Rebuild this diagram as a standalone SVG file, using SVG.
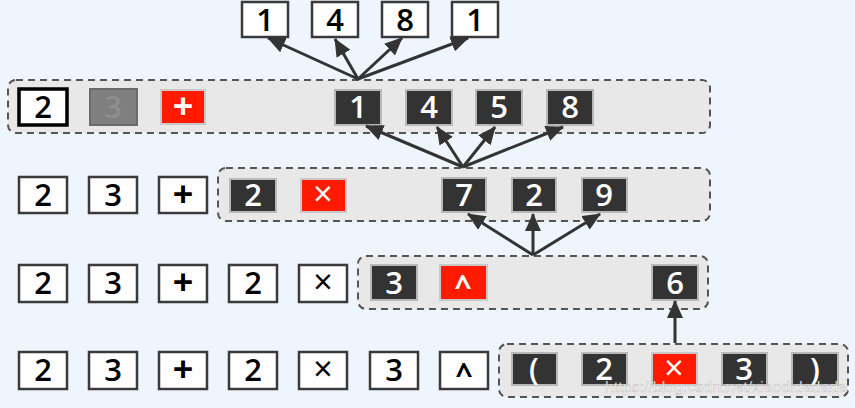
<svg xmlns="http://www.w3.org/2000/svg" width="855" height="408" viewBox="0 0 855 408">
<defs>
<style>
.bg{fill:#eef5fd}
.cont{fill:#e8e8e8;stroke:#555;stroke-width:2;stroke-dasharray:7 5}
.wb{fill:#fff;stroke:#3a3a3a;stroke-width:2.5}
.wbk{fill:#fff;stroke:#000;stroke-width:3.5}
.db{fill:#333;stroke:#b8b8b8;stroke-width:2}
.rb{fill:#ff1a00;stroke:#c8c8c8;stroke-width:2}
.gb{fill:#7f7f7f;stroke:#6a6a6a;stroke-width:2}
text{font-family:"Open Sans","DejaVu Sans",sans-serif;font-weight:600;font-size:31px;text-anchor:middle}
.tk{fill:#000}
.tw{fill:#fff}
.tg{fill:#8e8e8e}
.op{font-size:36px;font-weight:700}
.ox{font-weight:400;font-size:34px}
.ca{font-size:30px;font-weight:700}
.conn line{stroke:#333;stroke-width:3}
.wm{font-family:"Liberation Sans",Arial,sans-serif;font-weight:400;font-size:15px;text-anchor:start;fill:#fff;fill-opacity:0.85;stroke:#888;stroke-width:0.4;stroke-opacity:0.6}
</style>
<marker id="ah" markerUnits="userSpaceOnUse" markerWidth="18" markerHeight="16" viewBox="0 0 18 16" refX="17" refY="8" orient="auto">
<path d="M0,0 L18,8 L0,16 Z" fill="#333"/>
</marker>
</defs>
<rect class="bg" x="0" y="0" width="855" height="408"/>

<!-- containers -->
<g id="container1"><rect class="cont" x="8" y="80" width="702" height="53" rx="8"/></g>
<g id="container2"><rect class="cont" x="218" y="168" width="492" height="53" rx="8"/></g>
<g id="container3"><rect class="cont" x="358" y="256" width="350" height="53" rx="8"/></g>
<g id="container4"><rect class="cont" x="499" y="344" width="349" height="53" rx="8"/></g>

<!-- top result row -->
<g id="t1"><rect class="wb" x="242" y="2" width="46" height="35"/><text class="tk" x="265" y="31">1</text></g>
<g id="t2"><rect class="wb" x="312" y="2" width="46" height="35"/><text class="tk" x="335" y="31">4</text></g>
<g id="t3"><rect class="wb" x="382" y="2" width="46" height="35"/><text class="tk" x="405" y="31">8</text></g>
<g id="t4"><rect class="wb" x="452" y="2" width="46" height="35"/><text class="tk" x="475" y="31">1</text></g>

<!-- row 1 -->
<g id="r1a"><rect class="wbk" x="19" y="89" width="48" height="36"/><text class="tk" x="43" y="118">2</text></g>
<g id="r1b"><rect class="gb" x="90" y="89" width="47" height="36"/><text class="tg" x="113" y="118">3</text></g>
<g id="r1c"><rect class="rb" x="161" y="90" width="44" height="34"/><text class="tw op" x="183" y="119">+</text></g>
<g id="r1d"><rect class="db" x="335" y="90" width="46" height="35"/><text class="tw" x="358" y="118">1</text></g>
<g id="r1e"><rect class="db" x="406" y="90" width="46" height="35"/><text class="tw" x="429" y="118">4</text></g>
<g id="r1f"><rect class="db" x="476" y="90" width="46" height="35"/><text class="tw" x="499" y="118">5</text></g>
<g id="r1g"><rect class="db" x="547" y="90" width="46" height="35"/><text class="tw" x="570" y="118">8</text></g>

<!-- row 2 -->
<g id="r2a"><rect class="wb" x="19" y="177" width="48" height="36"/><text class="tk" x="43" y="206">2</text></g>
<g id="r2b"><rect class="wb" x="89" y="177" width="48" height="36"/><text class="tk" x="113" y="206">3</text></g>
<g id="r2c"><rect class="wb" x="159" y="177" width="48" height="36"/><text class="tk op" x="183" y="207">+</text></g>
<g id="r2d"><rect class="db" x="230" y="179" width="46" height="33"/><text class="tw" x="253" y="206">2</text></g>
<g id="r2e"><rect class="rb" x="301" y="179" width="45" height="33"/><text class="tw ox" x="323" y="206">×</text></g>
<g id="r2f"><rect class="db" x="442" y="178" width="44" height="34"/><text class="tw" x="464" y="206">7</text></g>
<g id="r2g"><rect class="db" x="512" y="178" width="44" height="34"/><text class="tw" x="534" y="206">2</text></g>
<g id="r2h"><rect class="db" x="582" y="178" width="45" height="34"/><text class="tw" x="604" y="206">9</text></g>

<!-- row 3 -->
<g id="r3a"><rect class="wb" x="19" y="265" width="48" height="37"/><text class="tk" x="43" y="294">2</text></g>
<g id="r3b"><rect class="wb" x="89" y="265" width="48" height="37"/><text class="tk" x="113" y="294">3</text></g>
<g id="r3c"><rect class="wb" x="159" y="265" width="48" height="37"/><text class="tk op" x="183" y="295">+</text></g>
<g id="r3d"><rect class="wb" x="229" y="265" width="48" height="37"/><text class="tk" x="253" y="294">2</text></g>
<g id="r3e"><rect class="wb" x="299" y="265" width="48" height="37"/><text class="tk ox" x="323" y="294">×</text></g>
<g id="r3f"><rect class="db" x="371" y="265" width="46" height="35"/><text class="tw" x="394" y="294">3</text></g>
<g id="r3g"><rect class="rb" x="440" y="265" width="47" height="35"/><text class="tw ca" x="463" y="297">^</text></g>
<g id="r3h"><rect class="db" x="652" y="265" width="46" height="35"/><text class="tw" x="675" y="294">6</text></g>

<!-- row 4 -->
<g id="r4a"><rect class="wb" x="19" y="352" width="48" height="37"/><text class="tk" x="43" y="381">2</text></g>
<g id="r4b"><rect class="wb" x="89" y="352" width="48" height="37"/><text class="tk" x="113" y="381">3</text></g>
<g id="r4c"><rect class="wb" x="159" y="352" width="48" height="37"/><text class="tk op" x="183" y="382">+</text></g>
<g id="r4d"><rect class="wb" x="229" y="352" width="48" height="37"/><text class="tk" x="253" y="381">2</text></g>
<g id="r4e"><rect class="wb" x="299" y="352" width="48" height="37"/><text class="tk ox" x="323" y="381">×</text></g>
<g id="r4f"><rect class="wb" x="370" y="352" width="48" height="37"/><text class="tk" x="394" y="381">3</text></g>
<g id="r4g"><rect class="wb" x="440" y="352" width="48" height="37"/><text class="tk ca" x="464" y="385">^</text></g>
<g id="r4h"><rect class="db" x="512" y="353" width="45" height="32"/><text class="tw" x="534" y="380">(</text></g>
<g id="r4i"><rect class="db" x="582" y="353" width="45" height="32"/><text class="tw" x="604" y="380">2</text></g>
<g id="r4j"><rect class="rb" x="652" y="353" width="45" height="32"/><text class="tw ox" x="674" y="380">×</text></g>
<g id="r4k"><rect class="db" x="722" y="353" width="45" height="32"/><text class="tw" x="744" y="380">3</text></g>
<g id="r4l"><rect class="db" x="792" y="353" width="46" height="32"/><text class="tw" x="815" y="380">)</text></g>

<!-- connectors -->
<g id="connectors" class="conn">
<line x1="358" y1="79" x2="268" y2="38" marker-end="url(#ah)"/>
<line x1="358" y1="79" x2="335" y2="39" marker-end="url(#ah)"/>
<line x1="358" y1="79" x2="402" y2="38" marker-end="url(#ah)"/>
<line x1="358" y1="79" x2="468" y2="38" marker-end="url(#ah)"/>
<line x1="463" y1="167" x2="366" y2="126" marker-end="url(#ah)"/>
<line x1="463" y1="167" x2="437" y2="127" marker-end="url(#ah)"/>
<line x1="463" y1="167" x2="495" y2="127" marker-end="url(#ah)"/>
<line x1="463" y1="167" x2="563" y2="127" marker-end="url(#ah)"/>
<line x1="533" y1="255" x2="468" y2="214" marker-end="url(#ah)"/>
<line x1="533" y1="255" x2="533" y2="214" marker-end="url(#ah)"/>
<line x1="533" y1="255" x2="600" y2="214" marker-end="url(#ah)"/>
<line x1="675" y1="343" x2="675" y2="301" marker-end="url(#ah)"/>
</g>

<text class="wm" x="605" y="392" textLength="242" lengthAdjust="spacingAndGlyphs">https://blog.csdn.net/xiaodidadada</text>
</svg>
